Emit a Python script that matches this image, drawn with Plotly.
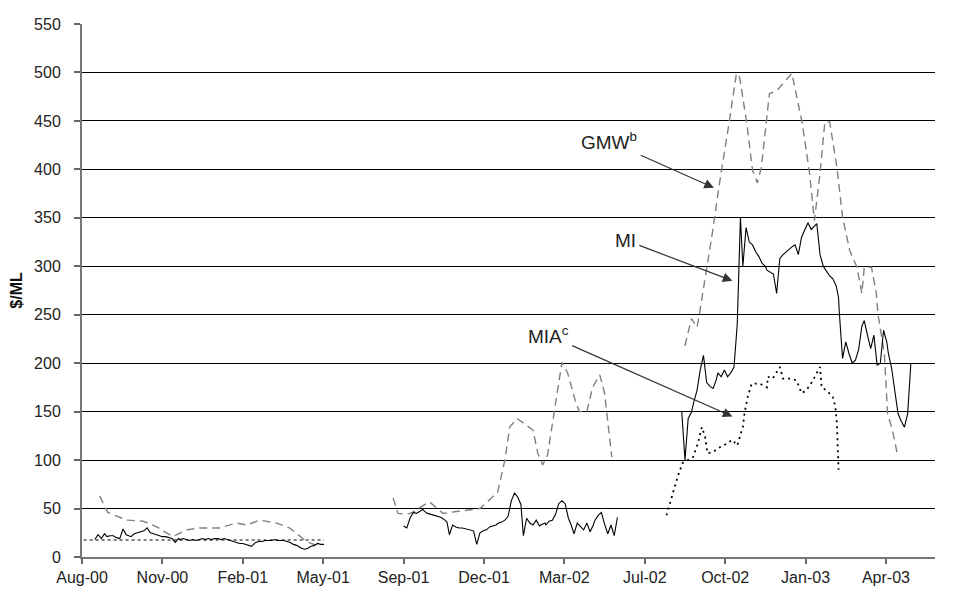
import plotly.graph_objects as go

# ---------------- data ----------------
tick_dates = ["2000-08-01", "2000-11-09", "2001-02-17", "2001-05-28", "2001-09-05",
              "2001-12-14", "2002-03-24", "2002-07-02", "2002-10-10", "2003-01-18", "2003-04-28"]
tick_labels = ["Aug-00", "Nov-00", "Feb-01", "May-01", "Sep-01", "Dec-01",
               "Mar-02", "Jul-02", "Oct-02", "Jan-03", "Apr-03"]

# GMW (dashed grey)
gmw_dates_1 = ["2000-08-23", "2000-09-02", "2000-09-26", "2000-10-16", "2000-11-02", "2000-11-22",
               "2000-12-09", "2000-12-25", "2001-01-19", "2001-02-09", "2001-02-22", "2001-03-10",
               "2001-03-31", "2001-04-16", "2001-04-24", "2001-05-07", "2001-05-20"]
gmw_vals_1 = [63, 46, 38, 37, 31, 21, 28, 30, 30, 35, 33, 38, 35, 30, 25, 16, 12]

gmw_dates_2 = ["2001-08-23", "2001-08-29", "2001-09-09", "2001-09-16", "2001-10-07", "2001-10-14",
               "2001-10-24", "2001-11-10", "2001-12-09", "2001-12-21", "2001-12-31", "2002-01-09",
               "2002-01-15", "2002-01-24", "2002-02-13", "2002-02-19", "2002-02-25", "2002-03-03",
               "2002-03-12", "2002-03-21", "2002-03-28", "2002-04-08", "2002-04-12", "2002-04-21",
               "2002-04-28", "2002-05-07", "2002-05-13", "2002-05-22"]
gmw_vals_2 = [61, 45, 44, 46, 57, 52, 45, 47, 50, 59, 67, 100, 134, 143, 131, 107, 95, 105,
              152, 201, 190, 157, 150, 150, 175, 188, 169, 103]

gmw_dates_3 = ["2002-08-21", "2002-08-29", "2002-09-05", "2002-09-08", "2002-09-24", "2002-10-03",
               "2002-10-16", "2002-10-24", "2002-10-28", "2002-11-06", "2002-11-13", "2002-11-19",
               "2002-11-24", "2002-12-04", "2002-12-13", "2003-01-01", "2003-01-14", "2003-01-23",
               "2003-01-29", "2003-02-05", "2003-02-11", "2003-02-17", "2003-02-26", "2003-03-05",
               "2003-03-14", "2003-03-23", "2003-03-29", "2003-04-01", "2003-04-10", "2003-04-16",
               "2003-04-18", "2003-04-26", "2003-04-30", "2003-05-06", "2003-05-12"]
gmw_vals_3 = [218, 246, 237, 251, 334, 386, 454, 499, 495, 447, 399, 386, 402, 478, 481, 499,
              447, 396, 347, 396, 449, 449, 402, 351, 316, 299, 272, 299, 299, 272, 251, 210,
              148, 131, 107]

# MI (solid black)
mi_dates_1 = """2000-08-17 2000-08-21 2000-08-25 2000-08-29
2000-09-01 2000-09-05 2000-09-09 2000-09-13 2000-09-17 2000-09-21 2000-09-25 2000-09-29
2000-10-01 2000-10-05 2000-10-09 2000-10-13 2000-10-17 2000-10-21 2000-10-25 2000-10-29
2000-11-01 2000-11-05 2000-11-09 2000-11-13 2000-11-17 2000-11-21 2000-11-25 2000-11-29
2000-12-01 2000-12-05 2000-12-09 2000-12-13 2000-12-17 2000-12-21 2000-12-25 2000-12-29
2001-01-01 2001-01-05 2001-01-09 2001-01-13 2001-01-17 2001-01-21 2001-01-25 2001-01-29
2001-02-01 2001-02-05 2001-02-09 2001-02-13 2001-02-17 2001-02-21 2001-02-25 2001-02-28
2001-03-01 2001-03-05 2001-03-09 2001-03-13 2001-03-17 2001-03-21 2001-03-25 2001-03-29
2001-04-01 2001-04-05 2001-04-09 2001-04-13 2001-04-17 2001-04-21 2001-04-25 2001-04-29
2001-05-01 2001-05-05 2001-05-09 2001-05-13 2001-05-17 2001-05-21 2001-05-25 2001-05-29""".split()
mi_vals_1 = [18, 23, 19, 24, 21, 22, 22, 20, 19, 29,
             23, 22, 21, 24, 25, 26, 27, 30, 25, 24,
             23, 22, 21, 21, 20, 19, 15, 19, 18, 19,
             18, 17, 18, 17, 18, 19, 18, 19, 18, 19,
             19, 18, 19, 18, 17, 16, 15, 14, 14, 13,
             12, 11, 12, 15, 16, 16, 17, 17, 17, 18,
             17, 17, 17, 16, 15, 13, 12, 10, 9, 8,
             9, 11, 12, 14, 13, 13]

mi_dates_2 = """2001-09-05 2001-09-09 2001-09-13 2001-09-17 2001-09-21 2001-09-25 2001-09-29
2001-10-01 2001-10-05 2001-10-09 2001-10-13 2001-10-17 2001-10-21 2001-10-25 2001-10-29
2001-11-01 2001-11-05 2001-11-09 2001-11-13 2001-11-17 2001-11-21 2001-11-25 2001-11-29
2001-12-01 2001-12-05 2001-12-09 2001-12-13 2001-12-17 2001-12-21 2001-12-25 2001-12-29
2002-01-01 2002-01-05 2002-01-09 2002-01-13 2002-01-17 2002-01-21 2002-01-25 2002-01-29
2002-02-01 2002-02-05 2002-02-09 2002-02-13 2002-02-17 2002-02-21 2002-02-25 2002-02-28
2002-03-01 2002-03-05 2002-03-09 2002-03-13 2002-03-17 2002-03-21 2002-03-25 2002-03-29
2002-04-01 2002-04-05 2002-04-09 2002-04-13 2002-04-17 2002-04-21 2002-04-25 2002-04-29
2002-05-01 2002-05-05 2002-05-09 2002-05-13 2002-05-17 2002-05-21 2002-05-25 2002-05-29""".split()
mi_vals_2 = [32, 30, 40, 46, 45, 47, 49, 47, 45, 44,
             43, 42, 41, 39, 36, 23, 33, 31, 30, 30,
             29, 28, 27, 27, 13, 25, 27, 28, 31, 32,
             33, 35, 36, 38, 42, 58, 66, 62, 54, 22,
             40, 35, 33, 38, 32, 34, 35, 33, 37, 38,
             44, 55, 58, 55, 40, 34, 24, 35, 31, 28,
             35, 26, 33, 38, 43, 46, 34, 24, 33, 22,
             41]

mi_dates_3 = """2002-08-17 2002-08-21 2002-08-25 2002-08-29
2002-09-01 2002-09-05 2002-09-09 2002-09-13 2002-09-17 2002-09-21 2002-09-25 2002-09-29
2002-10-01 2002-10-05 2002-10-09 2002-10-13 2002-10-17 2002-10-21 2002-10-25 2002-10-29
2002-11-01 2002-11-05 2002-11-09 2002-11-13 2002-11-17 2002-11-21 2002-11-25 2002-11-29
2002-12-01 2002-12-05 2002-12-09 2002-12-13 2002-12-17 2002-12-21 2002-12-25 2002-12-29
2003-01-01 2003-01-05 2003-01-09 2003-01-13 2003-01-17 2003-01-21 2003-01-25 2003-01-29
2003-02-01 2003-02-05 2003-02-09 2003-02-13 2003-02-17 2003-02-21 2003-02-25 2003-02-28
2003-03-01 2003-03-05 2003-03-09 2003-03-13 2003-03-17 2003-03-21 2003-03-25 2003-03-29
2003-04-01 2003-04-05 2003-04-09 2003-04-13 2003-04-17 2003-04-21 2003-04-25 2003-04-29
2003-05-01 2003-05-05 2003-05-09 2003-05-13 2003-05-17 2003-05-21 2003-05-25 2003-05-29""".split()
mi_vals_3 = [150, 100, 143, 149, 160, 172, 193, 208, 180, 176,
             174, 183, 190, 186, 193, 186, 190, 196, 240, 350,
             300, 340, 325, 322, 315, 310, 303, 300, 296, 294,
             292, 272, 308, 312, 315, 318, 320, 322, 312, 330,
             338, 345, 338, 341, 344, 312, 300, 295, 290, 287,
             280, 268, 252, 205, 222, 210, 200, 203, 214, 238,
             244, 229, 215, 229, 198, 200, 234, 222, 210, 195,
             170, 148, 140, 134, 148, 200]

# MIA (dotted black)
mia_dates_1 = ["2000-08-03", "2000-09-15", "2000-11-01", "2001-01-01", "2001-03-01",
               "2001-04-15", "2001-05-29"]
mia_vals_1 = [17.5, 17.5, 18, 17.5, 17.5, 18, 17.5]

mia_dates_3 = ["2002-07-29", "2002-08-06", "2002-08-12", "2002-08-18", "2002-08-31", "2002-09-06",
               "2002-09-11", "2002-09-15", "2002-09-18", "2002-09-24", "2002-10-03", "2002-10-12",
               "2002-10-19", "2002-10-25", "2002-10-28", "2002-11-01", "2002-11-03", "2002-11-07",
               "2002-11-12", "2002-11-22", "2002-12-01", "2002-12-02", "2002-12-08", "2002-12-14",
               "2002-12-17", "2002-12-21", "2003-01-01", "2003-01-07", "2003-01-13", "2003-01-19",
               "2003-01-27", "2003-02-01", "2003-02-05", "2003-02-07", "2003-02-13", "2003-02-21",
               "2003-02-24", "2003-02-26", "2003-02-27", "2003-02-28"]
mia_vals_3 = [43, 67, 83, 97, 103, 117, 134, 124, 107, 108, 113, 117, 121, 115, 124, 134, 148,
              165, 179, 179, 175, 186, 184, 193, 196, 184, 184, 182, 169, 172, 182, 190, 196,
              175, 172, 165, 155, 138, 100, 90]

# series labels: label text position and arrow head (data coordinates)
label_texts = ["GMW<sup>b</sup>", "MI", "MIA<sup>c</sup>"]
label_pos_x = ["2002-05-19", "2002-06-08", "2002-03-04"]
label_pos_y = [429, 327, 229]
arrow_head_x = ["2002-09-26", "2002-10-19", "2002-10-19"]
arrow_head_y = [381, 285, 145]

FONT = "Liberation Sans, Arial, sans-serif"

fig = go.Figure()


def add(dates, vals, color, width, dash):
    fig.add_trace(go.Scatter(x=dates, y=vals, mode="lines",
                             line=dict(color=color, width=width, dash=dash),
                             showlegend=False, hoverinfo="skip"))


for d, v in [(gmw_dates_1, gmw_vals_1), (gmw_dates_2, gmw_vals_2), (gmw_dates_3, gmw_vals_3)]:
    add(d, v, "#808080", 1.4, "8px,5px")
add(mia_dates_1, mia_vals_1, "#000000", 1.1, "3px,3px")
add(mia_dates_3, mia_vals_3, "#000000", 1.8, "2px,4px")
for d, v in [(mi_dates_1, mi_vals_1), (mi_dates_2, mi_vals_2), (mi_dates_3, mi_vals_3)]:
    add(d, v, "#000000", 1.1, "solid")

annotations = []
for t, tx, ty, hx, hy in zip(label_texts, label_pos_x, label_pos_y, arrow_head_x, arrow_head_y):
    annotations.append(dict(text=t, x=hx, y=hy, ax=tx, ay=ty,
                            xref="x", yref="y", axref="x", ayref="y", showarrow=True,
                            arrowhead=2, arrowsize=1.6, arrowwidth=1.2, arrowcolor="#333",
                            standoff=0, startstandoff=2,
                            font=dict(family=FONT, size=19, color="#222")))

# page body has an 8px margin, so the figure is sized to fit inside the window
fig.update_layout(
    width=955, height=584,
    margin=dict(l=74, r=28, t=16, b=35),
    paper_bgcolor="white", plot_bgcolor="white",
    font=dict(family=FONT, size=16, color="#222"),
    annotations=annotations,
    xaxis=dict(type="date", range=["2000-08-01", "2003-06-28"], automargin=False,
               tickmode="array", tickvals=tick_dates, ticktext=tick_labels,
               ticks="outside", ticklen=5, tickwidth=1.5, tickcolor="#666",
               showline=True, linecolor="#777", linewidth=2,
               showgrid=False, zeroline=False,
               tickfont=dict(family=FONT, size=16, color="#222")),
    yaxis=dict(range=[0, 550], tick0=0, dtick=50, automargin=False,
               ticks="outside", ticklen=6, tickwidth=1.5, tickcolor="#666",
               ticklabelstandoff=10,
               showline=True, linecolor="#777", linewidth=2,
               showgrid=True, gridcolor="#000", gridwidth=1, zeroline=False,
               tickfont=dict(family=FONT, size=16, color="#222"),
               title=dict(text="<b>$/ML</b>", font=dict(family=FONT, size=16, color="#111"),
                          standoff=8)),
)

fig.write_html("out.html")
